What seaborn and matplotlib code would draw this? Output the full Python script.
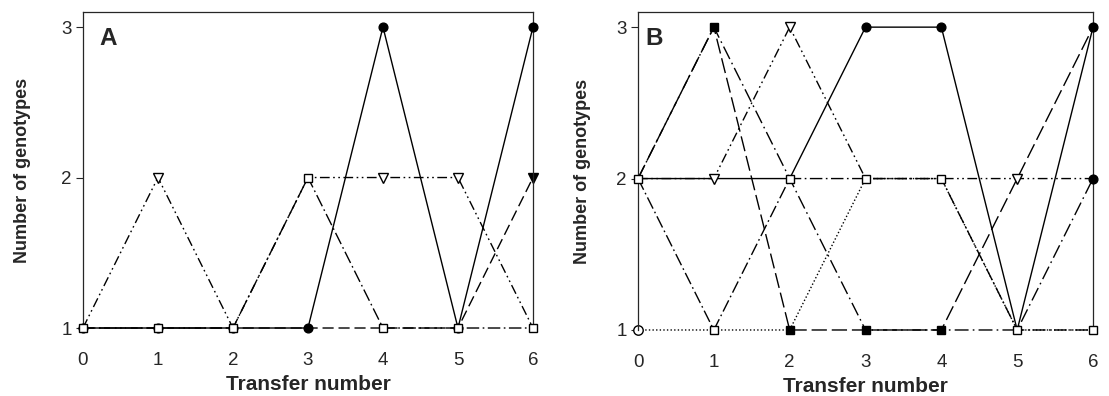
import numpy as np
import pandas as pd
import matplotlib
matplotlib.use("Agg")
import matplotlib.pyplot as plt
import seaborn as sns

# ---------------- data ----------------
transfers = [0, 1, 2, 3, 4, 5, 6]
yticks = [1, 2, 3]

# Panel A
a_solid_circle = [1, 1, 1, 1, 3, 1, 3]
a_dashdotdot_triangle = [1, 2, 1, 2, 2, 2, 1]
a_dashdot_square = [1, 1, 1, 2, 1, 1, 1]
a_dashed_filled_triangle = [1, 1, 1, 1, 1, 1, 2]

# Panel B
b_solid_circle = [2, 2, 2, 3, 3, 1, 3]
b_longdash_square = [2, 3, 1, 1, 1, 2, 3]
b_dashdot_circle = [2, 3, 2, 1, 1, 1, 2]
b_dashdot_square = [2, 1, 2, 2, 2, 1, 1]
b_dashdotdot_triangle = [2, 2, 3, 2, 2, 2, 2]
b_dotted_circle = [1, 1, 1, 2, 2, 1, 1]

# ---------------- style ----------------
sns.set_style("ticks")
plt.rcParams["font.family"] = ["Liberation Sans", "DejaVu Sans"]
plt.rcParams["lines.scale_dashes"] = False

LS = {
    "solid": "-",
    "longdash": (0, (11, 3.5)),
    "longdashdot": (0, (10, 3, 1.2, 3)),
    "dash": (0, (8, 3.5)),
    "dashdot": (0, (9, 2.5, 1.2, 2.5)),
    "dashdotdot": (0, (7, 2.5, 1.2, 2.5, 1.2, 2.5)),
    "dotted": (0, (1, 1.6)),
}
MK = {
    "fcircle": dict(marker="o", markerfacecolor="black", markeredgecolor="black"),
    "ocircle": dict(marker="o", markerfacecolor="white", markeredgecolor="black"),
    "fsquare": dict(marker="s", markerfacecolor="black", markeredgecolor="black"),
    "osquare": dict(marker="s", markerfacecolor="white", markeredgecolor="black"),
    "otri": dict(marker="v", markerfacecolor="white", markeredgecolor="black"),
    "ftri": dict(marker="v", markerfacecolor="black", markeredgecolor="black"),
}


def draw(ax, values, ls, mk, z, ms=6.3, every=None):
    df = pd.DataFrame({"x": transfers, "y": values})
    sns.lineplot(data=df, x="x", y="y", ax=ax, color="black", linewidth=1.0,
                 linestyle=LS[ls], markersize=ms, markeredgewidth=1.0,
                 markevery=every, clip_on=False, zorder=z, **MK[mk])


fig = plt.figure(figsize=(11.09, 3.96), dpi=100)
axA = fig.add_axes([0.0748, 0.1717, 0.4058, 0.798])
axB = fig.add_axes([0.5753, 0.1667, 0.4103, 0.803])

draw(axA, a_dashed_filled_triangle, "dash", "ftri", 2, ms=6.8, every=[6])
draw(axA, a_solid_circle, "solid", "fcircle", 3)
draw(axA, a_dashdotdot_triangle, "dashdotdot", "otri", 4, ms=6.8, every=[1, 4, 5])
draw(axA, a_dashdot_square, "dashdot", "osquare", 5, ms=5.6)

draw(axB, b_dotted_circle, "dotted", "ocircle", 2, ms=6.8, every=[0])
draw(axB, b_dashdot_circle, "longdashdot", "fcircle", 3, every=[6])
draw(axB, b_longdash_square, "longdash", "fsquare", 4, ms=6.0, every=[1, 2, 3, 4])
draw(axB, b_solid_circle, "solid", "fcircle", 5, every=[3, 4, 6])
draw(axB, b_dashdotdot_triangle, "dashdotdot", "otri", 6, ms=6.8, every=[1, 2, 5])
draw(axB, b_dashdot_square, "dashdot", "osquare", 7, ms=5.6)

for ax, letter, lx, ylx in [(axA, "A", 0.036, -0.115), (axB, "B", 0.017, -0.104)]:
    ax.set_xlim(0, 6)
    ax.set_ylim(1, 3.1)
    ax.set_xticks(transfers)
    ax.set_yticks(yticks)
    ax.set_xticklabels([str(t) for t in transfers])
    ax.set_yticklabels([str(t) for t in yticks])
    ax.tick_params(axis="x", length=0, pad=17, labelsize=13.5)
    ax.tick_params(axis="y", length=5, width=0.8, pad=3, direction="out", labelsize=13.5)
    ax.spines["bottom"].set_visible(False)
    for s in ["left", "top", "right"]:
        ax.spines[s].set_visible(True)
        ax.spines[s].set_linewidth(0.9)
    ax.set_xlabel("Transfer number", fontsize=15, fontweight="bold")
    ax.set_ylabel("Number of genotypes", fontsize=13, fontweight="bold")
    ax.xaxis.set_label_coords(0.5, -0.148)
    ax.yaxis.set_label_coords(ylx, 0.5)
    ax.text(lx, 0.952, letter, transform=ax.transAxes, fontsize=17.5,
            fontweight="bold", ha="left", va="top")

fig.savefig("out.png", dpi=100)
